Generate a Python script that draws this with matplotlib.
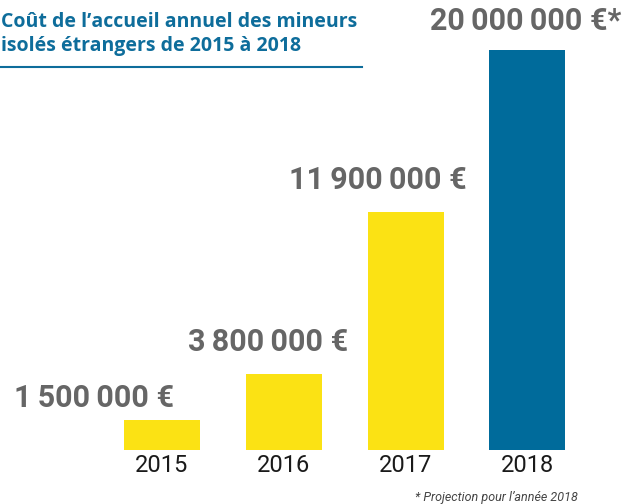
import matplotlib
matplotlib.use("Agg")
import matplotlib.pyplot as plt

# Données
annees = ["2015", "2016", "2017", "2018"]
couts = [1500000, 3800000, 11900000, 20000000]
etiquettes = ["1\u2009500\u2009000 €", "3\u2009800\u2009000 €", "11\u2009900\u2009000 €", "20\u2009000\u2009000 €*"]
couleurs = ["#fbe214", "#fbe214", "#fbe214", "#006b9b"]

W, H = 632, 504
fig = plt.figure(figsize=(W / 100, H / 100), dpi=100)
plt.rcParams['font.family'] = ['Roboto', 'DejaVu Sans']

# axes: base des barres à y=450 px, sommet 2018 à y=50 px
ax = fig.add_axes([0, (H - 450) / H, 1, 400 / H])
pas = 121.8
x = list(range(len(annees)))
ax.bar(x, couts, width=76 / pas, color=couleurs)
ax.set_xlim(-162 / pas, (W - 162) / pas)
ax.set_ylim(0, 20000000)
for s in ax.spines.values():
    s.set_visible(False)
ax.set_yticks([])
ax.set_xticks(x)
ax.set_xticklabels(annees, fontsize=17, color="#1a1a1a", family="Roboto")
ax.tick_params(axis="x", length=0, pad=3)

# étiquettes de valeur (décalages en pixels)
decalages = [(-68, 7), (-16, 17), (-28, 17), (-2, 14)]
for xi, v, txt, (dx, dy) in zip(x, couts, etiquettes, decalages):
    ax.annotate(txt, xy=(xi, v), xytext=(dx * 0.72, dy * 0.72), textcoords="offset points",
                ha="center", va="bottom", fontsize=22, fontweight="bold", color="#666666",
                annotation_clip=False)

# titre
bleu = "#0e6d9b"
fig.text(1 / W, 1 - 22 / H, "Coût de l’accueil annuel des mineurs", fontsize=14,
         fontweight="bold", color=bleu, family="Open Sans", va="center", ha="left")
fig.text(1 / W, 1 - 46 / H, "isolés étrangers de 2015 à 2018", fontsize=14,
         fontweight="bold", color=bleu, family="Open Sans", va="center", ha="left")
fig.add_artist(plt.Line2D([0, 362 / W], [1 - 67 / H, 1 - 67 / H], color=bleu, lw=1.5))

# note
fig.text(578 / W, 1 - 497 / H, "* Projection pour l’année 2018", fontsize=9, style="italic",
         color="#444444", ha="right", va="center")

fig.savefig("out.png", dpi=100)
